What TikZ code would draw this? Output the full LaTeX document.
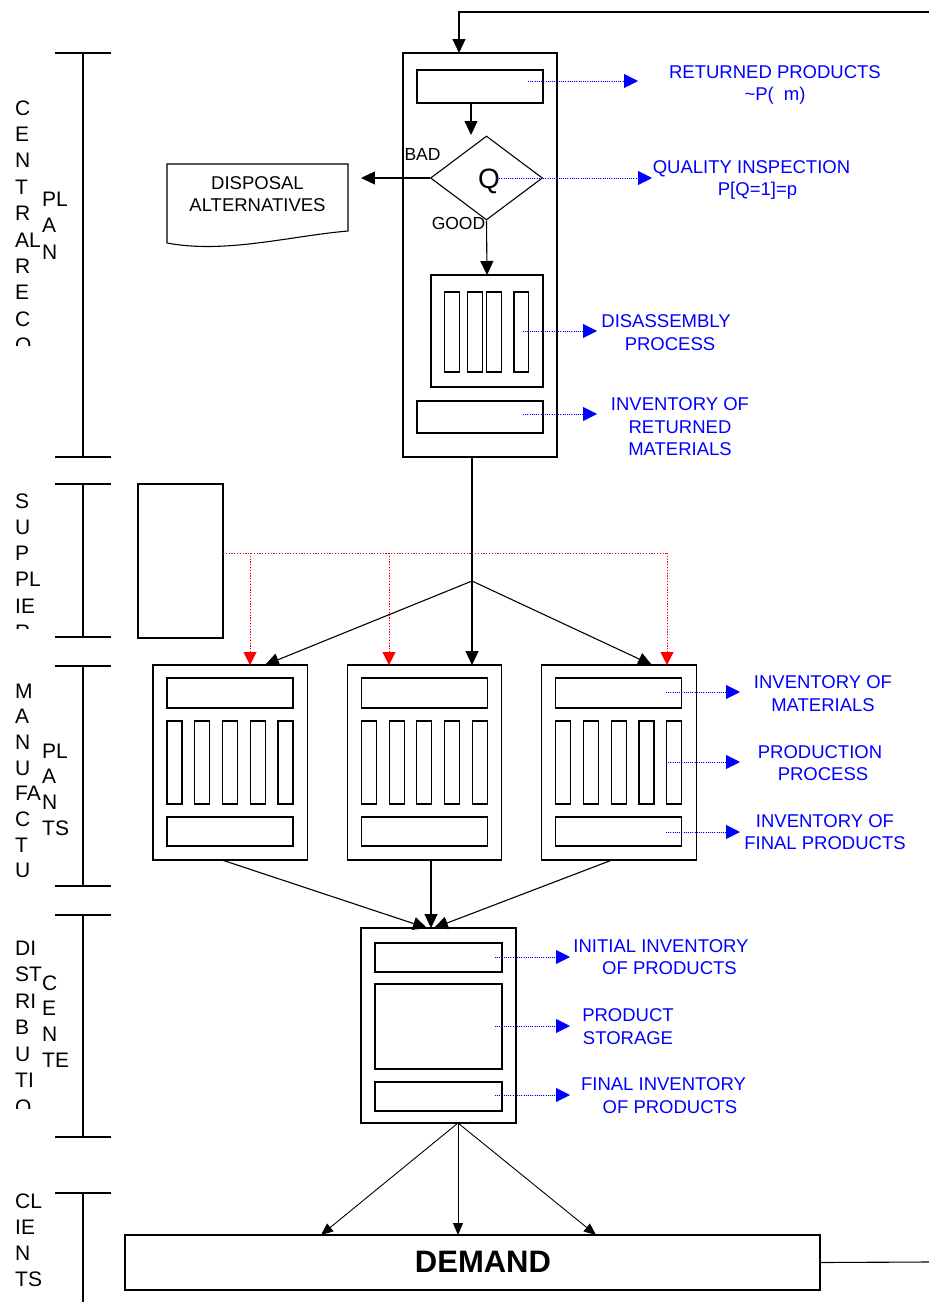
\documentclass[tikz,border=0pt]{standalone}
\usepackage{fontspec}
\setmainfont{Liberation Sans}
\usetikzlibrary{arrows.meta,shapes.geometric,calc}

\tikzset{
  ln/.style={line width=1.1pt},
  box/.style={draw, line width=1.1pt, inner sep=0pt, outer sep=0pt, anchor=north west},
  arr/.style={line width=1.1pt, -{Triangle[length=14pt,width=13pt]}},
  sarr/.style={line width=0.9pt, -{Triangle[length=12pt,width=10pt]}},
  note/.style={draw=blue, line width=0.9pt, dash pattern=on 1pt off 1.2pt, -{Triangle[length=14pt,width=14pt]}},
  supl/.style={draw=red, line width=1pt, dash pattern=on 1.2pt off 1.6pt},
  redtip/.style={-{Triangle[length=13pt,width=13pt]}},
  notetxt/.style={text=blue, font=\fontsize{18.5}{22.5}\selectfont, align=center, inner sep=0pt},
  side/.style={font=\fontsize{21}{24}\selectfont, inner sep=0pt, anchor=base west},
  plain/.style={font=\fontsize{18.5}{22.5}\selectfont, align=center, inner sep=0pt},
}
% rectangle node given by its corners
\newcommand\rbox[5]{\node[box, minimum width={(#4)-(#2)}, minimum height={(#5)-(#3)}] (#1) at (#2,#3) {};}

\begin{document}
\begin{tikzpicture}[x=1pt,y=-1pt]
\useasboundingbox (0,0) rectangle (929,1302);
\fill[white] (0,0) rectangle (929,1302);

% ---------- side brackets and stage names ----------
\foreach \t/\b in {53/457, 484/637, 666/886, 915/1137}{
  \draw[ln] (55,\t) -- (111,\t);
  \draw[ln] (55,\b) -- (111,\b);
  \draw[ln] (83,\t) -- (83,\b);
}
\draw[ln] (55,1193) -- (111,1193);
\draw[ln] (83,1193) -- (83,1302);

\begin{scope}
  \clip (0,53) rectangle (80,345);
  \foreach \t [count=\i from 0] in {C,E,N,T,R,AL,R,E,C,O}
    \node[side] (cen\i) at (15,{115+26.4*\i}) {\t};
  \foreach \t [count=\i from 0] in {PL,A,N}
    \node[side] (cpl\i) at (42,{206.5+26.4*\i}) {\t};
\end{scope}
\begin{scope}
  \clip (0,484) rectangle (80,628);
  \foreach \t [count=\i from 0] in {S,U,P,PL,IE,R}
    \node[side] (sup\i) at (15,{508+26.3*\i}) {\t};
\end{scope}
\begin{scope}
  \clip (0,666) rectangle (80,886);
  \foreach \t [count=\i from 0] in {M,A,N,U,FA,C,T,U,R}
    \node[side] (man\i) at (15,{698+25.7*\i}) {\t};
  \foreach \t [count=\i from 0] in {PL,A,N,TS}
    \node[side] (mpl\i) at (42,{758+25.7*\i}) {\t};
\end{scope}
\begin{scope}
  \clip (0,915) rectangle (80,1108);
  \foreach \t [count=\i from 0] in {DI,ST,RI,B,U,TI,O}
    \node[side] (dis\i) at (15,{955+26.5*\i}) {\t};
  \foreach \t [count=\i from 0] in {C,E,N,TE}
    \node[side] (dce\i) at (42,{990+25.7*\i}) {\t};
\end{scope}
\foreach \t [count=\i from 0] in {CL,IE,N,TS}
  \node[side] (cli\i) at (15,{1208+26.3*\i}) {\t};

% ---------- central recovery plant ----------
\rbox{rec}{403}{53}{557}{457}
\rbox{ret}{417}{70}{543}{103}
\node[diamond, draw, ln, minimum width=112pt, minimum height=84pt, inner sep=0pt] (qi) at (486.5,178) {};
\node[font=\fontsize{28}{28}\selectfont, inner sep=0pt] (qlbl) at (489,181) {Q};
\rbox{dis}{431}{275}{543}{387}
\foreach \a/\b in {444.3/459.3, 467.7/482.7, 486.7/501.7, 514/528.7}
  \draw[ln] (\a,292) rectangle (\b,372);
\rbox{rinv}{417}{401}{543}{433}

\node[font=\fontsize{17.5}{20}\selectfont, inner sep=0pt] (bad) at (422.5,154) {BAD};
\node[font=\fontsize{17.5}{20}\selectfont, inner sep=0pt] (good) at (458.5,223.5) {GOOD};

% disposal document shape
\draw[ln] (167,164) -- (348,164) -- (348,231)
  .. controls (290,236) and (225,254) .. (167,243) -- cycle;
\node[plain] (disp) at (257.5,194) {DISPOSAL\\ALTERNATIVES};

\coordinate (fb) at (929,12);
\coordinate (recin) at (459,53);
\draw[arr] (fb) -| (recin);
\draw[arr] ($(ret.south west)+(54,0)$) -- ++(0,32);
\draw[arr] (qi.west) -- ++(-69,0);
\draw[arr] (qi.south) -- (dis.north);

% ---------- suppliers ----------
\rbox{sup}{138}{484}{223}{638}

% ---------- manufacturing plants ----------
\foreach \L [count=\k] in {153,347.3,541.7}{
  \node[box, minimum width=154.5, minimum height=195] (p\k) at (\L,665) {};
  \draw[ln] (\L+14,678) rectangle (\L+140,708);
  \foreach \o in {14,41.75,69.5,97.25,125}
    \draw[ln] (\L+\o,721) rectangle (\L+\o+15,804);
  \draw[ln] (\L+14,817) rectangle (\L+140,846);
}

\coordinate (br) at (472,581);
\draw[ln] (rec.south -| br) -- (br);
\draw[arr] (br) -- (p2.north -| br);
\draw[arr] (br) -- ($(p1.north west)+(112,0)$);
\draw[arr] (br) -- ($(p3.north west)+(110.3,0)$);

\coordinate (rs) at ($(sup.north east)+(0,69)$);
\coordinate (r1) at ($(p1.north west)+(97,0)$);
\coordinate (r2) at ($(p2.north west)+(41.7,0)$);
\coordinate (r3) at ($(p3.north west)+(125.3,0)$);
\draw[supl] (rs) -- (rs -| r3);
\foreach \r in {r1,r2,r3}
  \draw[supl, redtip, fill=red] (rs -| \r) -- (\r);

% ---------- distribution centre ----------
\rbox{dc}{361}{928}{516}{1123}
\draw[ln] (375,943) rectangle (502,972);
\draw[ln] (375,984) rectangle (502,1069);
\draw[ln] (375,1082) rectangle (502,1111);

\draw[arr] ($(p1.south west)+(69,0)$) -- ($(dc.north)+(-11.5,0)$);
\draw[arr] ($(p2.south west)+(83.7,0)$) -- ($(dc.north)+(-7.5,0)$);
\draw[arr] ($(p3.south west)+(70.3,0)$) -- ($(dc.north)+(-4.5,0)$);

% ---------- clients ----------
\rbox{dem}{125}{1235}{820}{1290}
\node[font=\bfseries\fontsize{31}{31}\selectfont, inner sep=0pt] (demlbl) at (483,1262) {DEMAND};
\coordinate (dcout) at ($(dc.south)+(19.5,0)$);
\draw[sarr] (dcout) -- ($(dem.north west)+(196,0)$);
\draw[sarr] (dcout) -- ($(dem.north west)+(333,0)$);
\draw[sarr] (dcout) -- ($(dem.north west)+(471,0)$);
\coordinate (fbout) at (929,1262);
\draw[ln] (dem.east) -- (fbout);

% ---------- annotations ----------
\coordinate (n1a) at (528,81);  \coordinate (n1b) at (638,81);
\coordinate (n2a) at (497,178); \coordinate (n2b) at (652,178);
\coordinate (n3a) at (523,331); \coordinate (n3b) at (597,331);
\coordinate (n4a) at (523,414); \coordinate (n4b) at (597,414);
\coordinate (n5a) at (666,692); \coordinate (n5b) at (740,692);
\coordinate (n6a) at (666,762); \coordinate (n6b) at (740,762);
\coordinate (n7a) at (666,832); \coordinate (n7b) at (740,832);
\coordinate (n8a) at (495,957); \coordinate (n8b) at (570,957);
\coordinate (n9a) at (495,1026); \coordinate (n9b) at (570,1026);
\coordinate (n10a) at (495,1095); \coordinate (n10b) at (570,1095);
\foreach \i in {1,...,10}
  \draw[note, fill=blue] (n\i a) -- (n\i b);

\node[notetxt] (t1) at (775,85) {RETURNED PRODUCTS\\\textasciitilde P(\hspace{10pt}m)};
\node[notetxt] (t2) at (751.5,180) {QUALITY INSPECTION\\\hspace*{12pt}P[Q=1]=p};
\node[notetxt] (t3) at (666,332.5) {DISASSEMBLY\\\hspace*{8pt}PROCESS};
\node[notetxt] (t4) at (680,427) {INVENTORY OF\\RETURNED\\MATERIALS};
\node[notetxt] (t5) at (823,693.5) {INVENTORY OF\\MATERIALS};
\node[notetxt] (t6) at (820,763) {PRODUCTION\\\hspace*{6pt}PROCESS};
\node[notetxt] (t7) at (825,832) {INVENTORY OF\\FINAL PRODUCTS};
\node[notetxt] (t8) at (661,957) {INITIAL INVENTORY\\\hspace*{17pt}OF PRODUCTS};
\node[notetxt] (t9) at (628,1026.5) {PRODUCT\\STORAGE};
\node[notetxt] (t10) at (663.5,1095.5) {FINAL INVENTORY\\\hspace*{13pt}OF PRODUCTS};
\end{tikzpicture}
\end{document}
